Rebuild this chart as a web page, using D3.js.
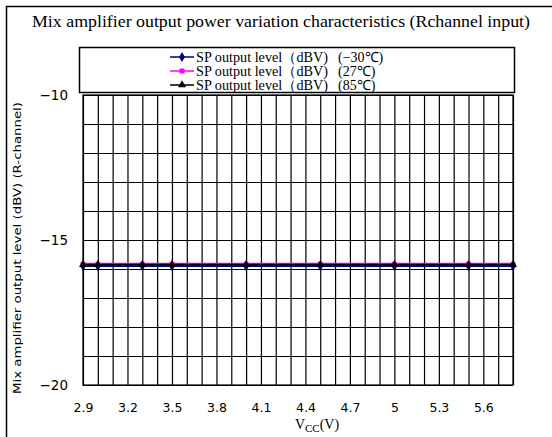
<!DOCTYPE html>
<html>
<head>
<meta charset="utf-8">
<script src="https://cdn.jsdelivr.net/npm/d3@7"></script>
<style>
  body { margin: 0; background: #fff; }
  text { fill: #000; }
</style>
</head>
<body>
<div id="container"></div>
<script>
// Mix amplifier output power vs Vcc, three temperatures

var vcc = [2.9, 3.0, 3.3, 3.5, 4.0, 4.5, 5.0, 5.5, 5.8];
var levelCold = [-15.9, -15.9, -15.9, -15.9, -15.9, -15.9, -15.9, -15.9, -15.9];
var levelRoom = [-15.84, -15.84, -15.84, -15.84, -15.84, -15.84, -15.84, -15.84, -15.84];
var levelHot = [-15.85, -15.85, -15.85, -15.85, -15.85, -15.85, -15.85, -15.85, -15.85];
var xTickLabels = [2.9, 3.2, 3.5, 3.8, 4.1, 4.4, 4.7, 5.0, 5.3, 5.6];
var yTickLabels = [-10, -15, -20];
var seriesNames = ["SP output level（dBV)", "SP output level（dBV)", "SP output level（dBV)"];
var seriesTemps = ["(−30℃)", "(27℃)", "(85℃)"];

var W = 552, H = 437;
var margin = {top: 95, right: 39, bottom: 52, left: 83},
    width = W - margin.left - margin.right,
    height = H - margin.top - margin.bottom;

var svg = d3.select("#container").append("svg")
    .attr("width", W)
    .attr("height", H);

// outer chart border (right/bottom run off the picture)
svg.append("rect")
    .attr("x", 6.5).attr("y", 6.5)
    .attr("width", W + 10).attr("height", H + 10)
    .attr("fill", "none").attr("stroke", "#000").attr("stroke-width", 1.5);

// title
svg.append("text")
    .attr("x", 281).attr("y", 27)
    .attr("text-anchor", "middle")
    .style("font-family", "'Liberation Serif', serif")
    .style("font-size", "17px")
    .attr("textLength", 498)
    .attr("lengthAdjust", "spacingAndGlyphs")
    .text("Mix amplifier output power variation characteristics (Rchannel input)");

var g = svg.append("g")
    .attr("transform", "translate(" + margin.left + "," + margin.top + ")");

var x = d3.scaleLinear().domain([2.9, 5.8]).range([0, width]);
var y = d3.scaleLinear().domain([-20, -10]).range([height, 0]);

// vertical gridlines, one per 0.1 V category
var cats = d3.range(30).map(function(i) { return +(2.9 + i * 0.1).toFixed(1); });
g.append("g")
    .attr("class", "grid")
    .attr("transform", "translate(0," + height + ")")
    .call(d3.axisBottom(x).tickValues(cats).tickSize(-height).tickFormat(""))
    .call(function(s) { s.select(".domain").remove(); })
    .selectAll("line").attr("stroke", "#000").attr("stroke-width", 1.2);

// horizontal gridlines, every 1 dB
g.append("g")
    .attr("class", "grid")
    .call(d3.axisLeft(y).tickValues(d3.range(-20, -9, 1)).tickSize(-width).tickFormat(""))
    .call(function(s) { s.select(".domain").remove(); })
    .selectAll("line").attr("stroke", "#000").attr("stroke-width", 1.2);

g.append("rect")
    .attr("width", width).attr("height", height)
    .attr("fill", "none").attr("stroke", "#000").attr("stroke-width", 1.2);

// tick labels
var xAxis = g.append("g")
    .attr("transform", "translate(0," + height + ")")
    .call(d3.axisBottom(x).tickValues(xTickLabels).tickSize(0).tickPadding(18)
        .tickFormat(function(d) { return d === 5 ? "5" : d3.format(".1f")(d); }));
xAxis.select(".domain").remove();
xAxis.selectAll("text")
    .style("font-family", "'DejaVu Sans', sans-serif")
    .style("font-size", "12.5px");

var yAxis = g.append("g")
    .call(d3.axisLeft(y).tickValues(yTickLabels).tickSize(0).tickPadding(15)
        .tickFormat(function(d) { return "−" + Math.abs(d); }));
yAxis.select(".domain").remove();
yAxis.selectAll("text")
    .style("font-family", "'DejaVu Sans', sans-serif")
    .style("font-size", "13.5px");

// axis titles
var xt = svg.append("text")
    .attr("x", 317).attr("y", 429)
    .attr("text-anchor", "middle")
    .style("font-family", "'Liberation Serif', serif")
    .style("font-size", "14px");
xt.append("tspan").text("V");
xt.append("tspan").attr("dy", 3).style("font-size", "11px").text("CC");
xt.append("tspan").attr("dy", -3).text("(V)");

svg.append("text")
    .attr("transform", "translate(21," + 248 + ") rotate(-90)")
    .attr("text-anchor", "middle")
    .style("font-family", "'DejaVu Sans', sans-serif")
    .style("font-size", "11px")
    .attr("textLength", 292)
    .attr("lengthAdjust", "spacingAndGlyphs")
    .text("Mix amplifier output level  (dBV) (R-channel)");

// series
var series = [
  {values: levelCold, color: "#000080", marker: d3.symbolDiamond, size: 30},
  {values: levelRoom, color: "#ff00ff", marker: d3.symbolSquare, size: 25},
  {values: levelHot, color: "#000000", marker: d3.symbolTriangle, size: 28}
];

var line = d3.line()
    .x(function(d) { return x(d[0]); })
    .y(function(d) { return y(d[1]); });

series.forEach(function(s, i) {
  var pts = vcc.map(function(v, j) { return [v, s.values[j]]; });
  g.append("path")
      .datum(pts)
      .attr("fill", "none")
      .attr("stroke", s.color)
      .attr("stroke-width", i === 1 ? 3 : 2)
      .attr("d", line);
});
series.forEach(function(s) {
  var pts = vcc.map(function(v, j) { return [v, s.values[j]]; });
  g.selectAll(null)
      .data(pts)
      .enter().append("path")
      .attr("transform", function(d) { return "translate(" + x(d[0]) + "," + y(d[1]) + ")"; })
      .attr("d", d3.symbol().type(s.marker).size(s.size))
      .attr("fill", s.color);
});

// legend
var legend = svg.append("g");
legend.append("rect")
    .attr("x", 79.5).attr("y", 47.5)
    .attr("width", 435).attr("height", 45)
    .attr("fill", "#fff").attr("stroke", "#000").attr("stroke-width", 1.5);

series.forEach(function(s, i) {
  var ly = 57 + i * 14;
  legend.append("line")
      .attr("x1", 170).attr("x2", 194)
      .attr("y1", ly).attr("y2", ly)
      .attr("stroke", s.color).attr("stroke-width", 1.5);
  legend.append("path")
      .attr("transform", "translate(182," + ly + ")")
      .attr("d", d3.symbol().type(s.marker).size(s.size))
      .attr("fill", s.color);
  legend.append("text")
      .attr("x", 196).attr("y", ly + 5)
      .style("font-family", "'Liberation Serif', serif")
      .style("font-size", "14px")
      .attr("textLength", 132)
      .attr("lengthAdjust", "spacingAndGlyphs")
      .text(seriesNames[i]);
  legend.append("text")
      .attr("x", 338).attr("y", ly + 5)
      .style("font-family", "'Liberation Serif', serif")
      .style("font-size", "14px")
      .text(seriesTemps[i]);
});
</script>
</body>
</html>
